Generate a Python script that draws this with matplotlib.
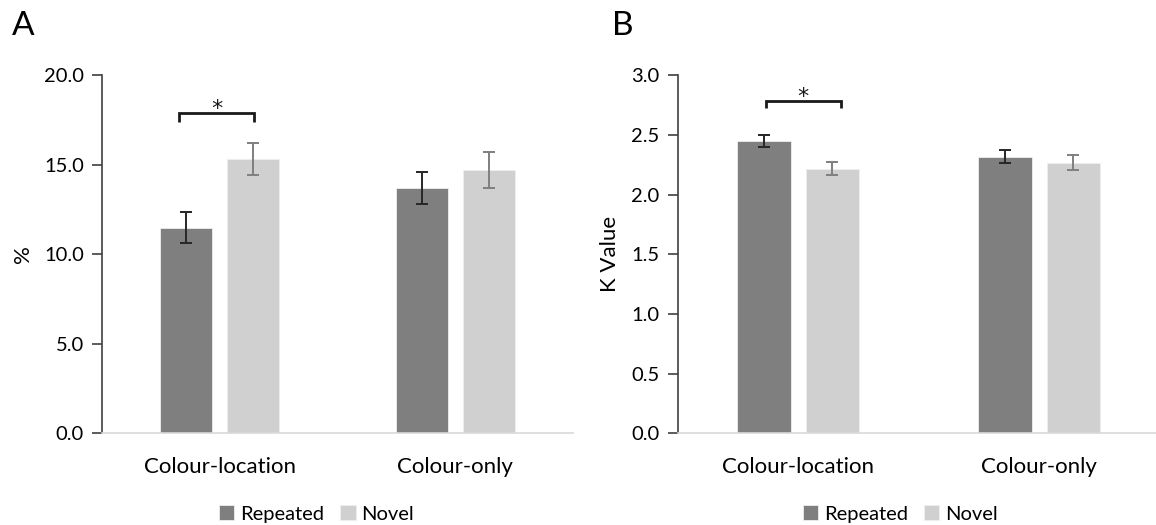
import matplotlib.pyplot as plt
import numpy as np

plt.rcParams['font.family'] = ['Lato', 'DejaVu Sans']

categories = ['Colour-location', 'Colour-only']
series = ['Repeated', 'Novel']

# panel A: percent
pct_repeated = [11.5, 13.7]
pct_repeated_err = [0.87, 0.90]
pct_novel = [15.35, 14.73]
pct_novel_err = [0.89, 1.00]

# panel B: K value
k_repeated = [2.45, 2.32]
k_repeated_err = [0.05, 0.057]
k_novel = [2.22, 2.27]
k_novel_err = [0.057, 0.066]

bar_colors = ['#7f7f7f', '#d0d0d0']
err_colors = ['#262626', '#7f7f7f']

fig = plt.figure(figsize=(11.56, 5.25), dpi=100)
axA = fig.add_axes([0.0882, 0.1747, 0.4074, 0.6815])
axB = fig.add_axes([0.5862, 0.1747, 0.4170, 0.6815])

x = np.arange(len(categories))
width = 0.221
offset = 0.142


def draw_panel(ax, rep, rep_err, nov, nov_err, ymax, step, ylabel, bracket):
    handles = []
    for vals, errs, sgn, bc, ec, name in [
            (rep, rep_err, -1, bar_colors[0], err_colors[0], series[0]),
            (nov, nov_err, 1, bar_colors[1], err_colors[1], series[1])]:
        b = ax.bar(x + sgn * offset, vals, width, color=bc, edgecolor='#eeeeee',
                   linewidth=0.6, label=name, zorder=2)
        ax.errorbar(x + sgn * offset, vals, yerr=errs, fmt='none', ecolor=ec,
                    elinewidth=1.4, capsize=4.5, capthick=1.4, zorder=3)
        handles.append(b)

    ax.set_xlim(-0.5, 1.5)
    ax.set_ylim(0, ymax)
    ticks = np.arange(0, ymax + step / 2, step)
    ax.set_yticks(ticks)
    ax.set_yticklabels(['%.1f' % v for v in ticks])
    ax.set_xticks(x)
    ax.set_xticklabels(categories, fontsize=16)
    ax.tick_params(axis='x', length=0, pad=17, colors='#000000')
    ax.tick_params(axis='y', length=7, width=1.2, color='#404040', labelsize=14.5, pad=6)
    ax.spines['top'].set_visible(False)
    ax.spines['right'].set_visible(False)
    ax.spines['left'].set_color('#404040')
    ax.spines['left'].set_linewidth(1.2)
    ax.spines['bottom'].set_color('#d9d9d9')
    ax.spines['bottom'].set_linewidth(1.2)
    ax.set_ylabel(ylabel, fontsize=16, labelpad=8)

    # significance bracket
    x0, x1, y_top, y_tip = bracket
    ax.plot([x0, x0, x1, x1], [y_tip, y_top, y_top, y_tip], color='#1a1a1a',
            lw=2, solid_joinstyle='miter', solid_capstyle='butt',
            clip_on=False, zorder=4)
    ax.annotate('*', xy=((x0 + x1) / 2, y_top), xytext=(0, -1.5),
                textcoords='offset points', ha='center', va='baseline',
                fontsize=16, family='DejaVu Sans', color='#1a1a1a')
    return handles


hA = draw_panel(axA, pct_repeated, pct_repeated_err, pct_novel, pct_novel_err,
                20, 5, '%', (-0.172, 0.145, 17.89, 17.42))
hB = draw_panel(axB, k_repeated, k_repeated_err, k_novel, k_novel_err,
                3, 0.5, 'K Value', (-0.134, 0.176, 2.79, 2.73))

fig.legend(hA, series, loc='center', bbox_to_anchor=(0.274, 0.021), ncol=2,
           frameon=False, fontsize=14.5, handlelength=0.75, handleheight=0.75,
           handletextpad=0.3, columnspacing=0.8)
fig.legend(hB, series, loc='center', bbox_to_anchor=(0.779, 0.021), ncol=2,
           frameon=False, fontsize=14.5, handlelength=0.75, handleheight=0.75,
           handletextpad=0.3, columnspacing=0.8)

fig.text(0.010, 0.950, 'A', fontsize=24, va='center', ha='left')
fig.text(0.529, 0.950, 'B', fontsize=24, va='center', ha='left')

fig.savefig('out.png', dpi=100)
